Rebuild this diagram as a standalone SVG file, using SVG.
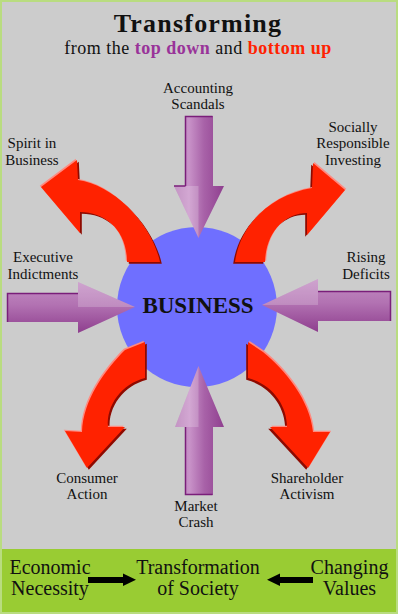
<svg xmlns="http://www.w3.org/2000/svg" xmlns:xlink="http://www.w3.org/1999/xlink" width="398" height="614" viewBox="0 0 398 614">
<style>
  .lbl { font-family: "Liberation Serif", "Times New Roman", serif; font-size: 15px; fill: #111; text-anchor: middle; }
  .band { font-family: "Liberation Serif", "Times New Roman", serif; font-size: 20px; fill: #111; text-anchor: middle; }
  .rdark { fill: #8e0a00; }
  .rlight { fill: #ff8a80; }
  .rmain { fill: #ff2200; }
  .facet { fill: #ffffff; opacity: 0.2; }
  .edge { fill: none; stroke: #7a1e7a; stroke-width: 1.5; }
</style>
<defs>
  <linearGradient id="gv" x1="0" y1="0" x2="1" y2="0">
    <stop offset="0" stop-color="#b57ab5"/>
    <stop offset="0.3" stop-color="#c892c8"/>
    <stop offset="0.6" stop-color="#a862a8"/>
    <stop offset="1" stop-color="#8f3f8f"/>
  </linearGradient>
  <linearGradient id="gh" x1="0" y1="0" x2="0" y2="1">
    <stop offset="0" stop-color="#c38dc3"/>
    <stop offset="0.45" stop-color="#b272b2"/>
    <stop offset="1" stop-color="#8e3e8e"/>
  </linearGradient>
  <path id="ra1" d="M127,262 L160,262 C152,225 115,185 78,180 L77,160 L41,187 L80,233 L80,212 C105,212 127,230 127,262 Z"/>
  <path id="ra2" d="M235,262 C240,225 270,195 312,188 L313,163 L345,190 L307,235 L307,213 C285,213 266,232 265,262 Z"/>
  <path id="ra3" d="M145,342 L125,350 C105,370 83,400 82,432 L65,431 L87,468 L125,427 L108,427 C106,405 122,384 145,378 Z"/>
  <path id="ra4" d="M248,342 L263,352 C285,370 310,400 313,432 L330,432 L308,468 L270,427 L287,427 C287,405 272,384 248,378 Z"/>
</defs>

<rect x="0" y="0" width="398" height="614" fill="#cccccc"/>
<rect x="0" y="549" width="398" height="65" fill="#99cc33"/>
<rect x="1" y="1" width="396" height="612" fill="none" stroke="#b9dc80" stroke-width="2"/>

<g id="title">
  <text x="198" y="31.5" font-family="'Liberation Serif', 'Times New Roman', serif" font-size="26" font-weight="bold" letter-spacing="1.2" text-anchor="middle" fill="#111">Transforming</text>
  <text x="198" y="54" font-family="'Liberation Serif', 'Times New Roman', serif" font-size="18" letter-spacing="0.5" text-anchor="middle" fill="#111">from the <tspan font-weight="bold" fill="#993399">top down</tspan> and <tspan font-weight="bold" fill="#ff2200">bottom up</tspan></text>
</g>

<g id="business">
  <circle cx="197" cy="307" r="80" fill="#6f6fff"/>
</g>

<g id="connectors">
  <g id="arrow-top">
    <polygon points="185,116 213,116 213,186 224,186 198.5,238 174,186 185,186" fill="url(#gv)"/>
    <polygon class="facet" points="174,186 198.5,238 198.5,186"/>
    <polyline class="edge" points="185.5,186 185.5,116.5 212.5,116.5"/>
    <polyline class="edge" points="174,186 185.5,186"/>
  </g>
  <g id="arrow-bottom">
    <polygon points="185,495 213,495 213,427 224,427 198.5,366 175,427 185,427" fill="url(#gv)"/>
    <polygon class="facet" points="175,427 198.5,366 198.5,427"/>
    <polyline class="edge" points="185.5,427 185.5,494.5 212.5,494.5"/>
  </g>
  <g id="arrow-left">
    <polygon points="7,293 78,293 78,282 135,307 78,333 78,322 7,322" fill="url(#gh)"/>
    <polygon class="facet" points="78,282 135,307 78,307"/>
    <polyline class="edge" points="7.5,322 7.5,293.5 78,293.5"/>
  </g>
  <g id="arrow-right">
    <polygon points="391,291 318,291 318,279 262,305 318,332 318,321 391,321" fill="url(#gh)"/>
    <polygon class="facet" points="318,279 262,305 318,305"/>
    <polyline class="edge" points="318,291.5 390.5,291.5 390.5,321"/>
  </g>

  <g id="arrow-ul">
    <use xlink:href="#ra1" class="rdark" transform="translate(1.8,1.8)"/>
    <use xlink:href="#ra1" class="rlight" transform="translate(-1.2,-1.2)"/>
    <use xlink:href="#ra1" class="rmain"/>
  </g>
  <g id="arrow-ur">
    <use xlink:href="#ra2" class="rdark" transform="translate(-1.8,1.8)"/>
    <use xlink:href="#ra2" class="rlight" transform="translate(1.2,-1.2)"/>
    <use xlink:href="#ra2" class="rmain"/>
  </g>
  <g id="arrow-ll">
    <use xlink:href="#ra3" class="rdark" transform="translate(1.8,1.8)"/>
    <use xlink:href="#ra3" class="rlight" transform="translate(-1.2,-1.2)"/>
    <use xlink:href="#ra3" class="rmain"/>
  </g>
  <g id="arrow-lr">
    <use xlink:href="#ra4" class="rdark" transform="translate(-1.8,1.8)"/>
    <use xlink:href="#ra4" class="rlight" transform="translate(1.2,-1.2)"/>
    <use xlink:href="#ra4" class="rmain"/>
  </g>

  <polygon id="arrow-econ" points="88,577 123,577 123,573.5 136,579.8 123,586 123,583 88,583" fill="#000"/>
  <polygon id="arrow-values" points="313,577 280,577 280,573.5 267,579.8 280,586 280,583 313,583" fill="#000"/>
</g>

<g id="business-label">
  <text x="198" y="312.5" font-family="'Liberation Serif', 'Times New Roman', serif" font-size="23" font-weight="bold" text-anchor="middle" fill="#111">BUSINESS</text>
</g>

<g id="accounting"><text class="lbl" x="198" y="93">Accounting</text><text class="lbl" x="198" y="109">Scandals</text></g>
<g id="spirit"><text class="lbl" x="32" y="148">Spirit in</text><text class="lbl" x="32" y="165">Business</text></g>
<g id="socially"><text class="lbl" x="353" y="131.5">Socially</text><text class="lbl" x="353" y="148">Responsible</text><text class="lbl" x="353" y="165">Investing</text></g>
<g id="executive"><text class="lbl" x="43" y="262">Executive</text><text class="lbl" x="43" y="278.5">Indictments</text></g>
<g id="rising"><text class="lbl" x="366" y="262">Rising</text><text class="lbl" x="366" y="278.5">Deficits</text></g>
<g id="consumer"><text class="lbl" x="87" y="483">Consumer</text><text class="lbl" x="87" y="499">Action</text></g>
<g id="shareholder"><text class="lbl" x="307" y="483">Shareholder</text><text class="lbl" x="307" y="499">Activism</text></g>
<g id="market"><text class="lbl" x="196" y="511">Market</text><text class="lbl" x="196" y="527">Crash</text></g>

<g id="economic"><text class="band" x="50" y="573.5">Economic</text><text class="band" x="50" y="595">Necessity</text></g>
<g id="transformation"><text class="band" x="198" y="573.5">Transformation</text><text class="band" x="198" y="595">of Society</text></g>
<g id="changing"><text class="band" x="349.5" y="573.5">Changing</text><text class="band" x="349.5" y="595">Values</text></g>
</svg>
